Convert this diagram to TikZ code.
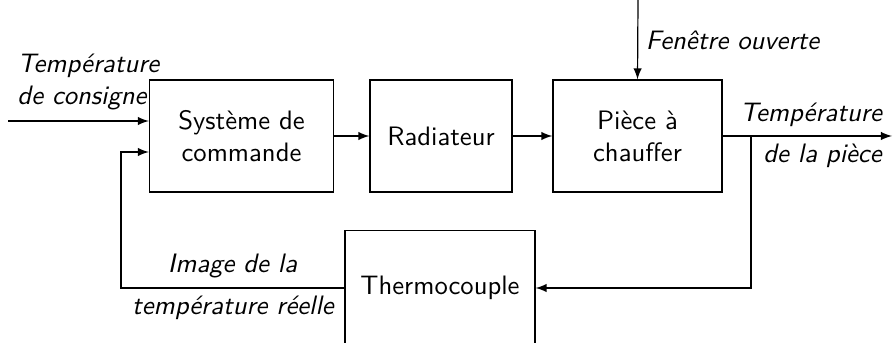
\documentclass[tikz,border=0pt]{standalone}
\usepackage{fontspec}
\renewcommand\familydefault{\sfdefault}
\usetikzlibrary{arrows}
\begin{document}
\begin{tikzpicture}[x=0.375pt,y=-0.375pt,
  blk/.style={draw,line width=0.45pt,inner sep=0pt,align=center,font=\sffamily},
  lbl/.style={inner sep=0pt,anchor=base,font=\sffamily\itshape},
  arr/.style={-latex,line width=0.45pt},
  ln/.style={line width=0.45pt}]
\useasboundingbox (0,0) rectangle (896,343);
\clip (0,0) rectangle (896,343);
\node[blk,minimum width=69pt,minimum height=42pt] (sys) at (241.5,136) {Système de\\commande};
\node[blk,minimum width=53.25pt,minimum height=42pt] (rad) at (441,136) {Radiateur};
\node[blk,minimum width=63.4pt,minimum height=42pt] (pie) at (637.5,136) {Pièce à\\chauffer};
\node[blk,minimum width=71.25pt,minimum height=43pt] (thc) at (440,288) {Thermocouple};
\coordinate (in) at (8,121);
\coordinate (fb) at (121,152);
\coordinate (top) at (638,0);
\coordinate (out) at (892,136);
\coordinate (br) at (751,136);
\draw[arr] (in) -- (in -| sys.west);
\draw[arr] (sys.east) -- (rad.west);
\draw[arr] (rad.east) -- (pie.west);
\draw[arr] (top) -- (pie.north);
\draw[arr] (pie.east) -- (out);
\draw[arr] (br) |- (thc.east);
\draw[arr] (thc.west) -| (fb) -- (fb -| sys.west);
\node[lbl] (t1) at (88.5,73) {Température};
\node[lbl] (t2) at (82,105) {de consigne};
\node[lbl] (t3) at (732.5,50) {Fenêtre ouverte};
\node[lbl] (t4) at (811,122) {Température};
\node[lbl] (t5) at (822.5,163) {de la pièce};
\node[lbl] (t6) at (232.5,273) {Image de la};
\node[lbl] (t7) at (233,315) {température réelle};
\end{tikzpicture}
\end{document}
